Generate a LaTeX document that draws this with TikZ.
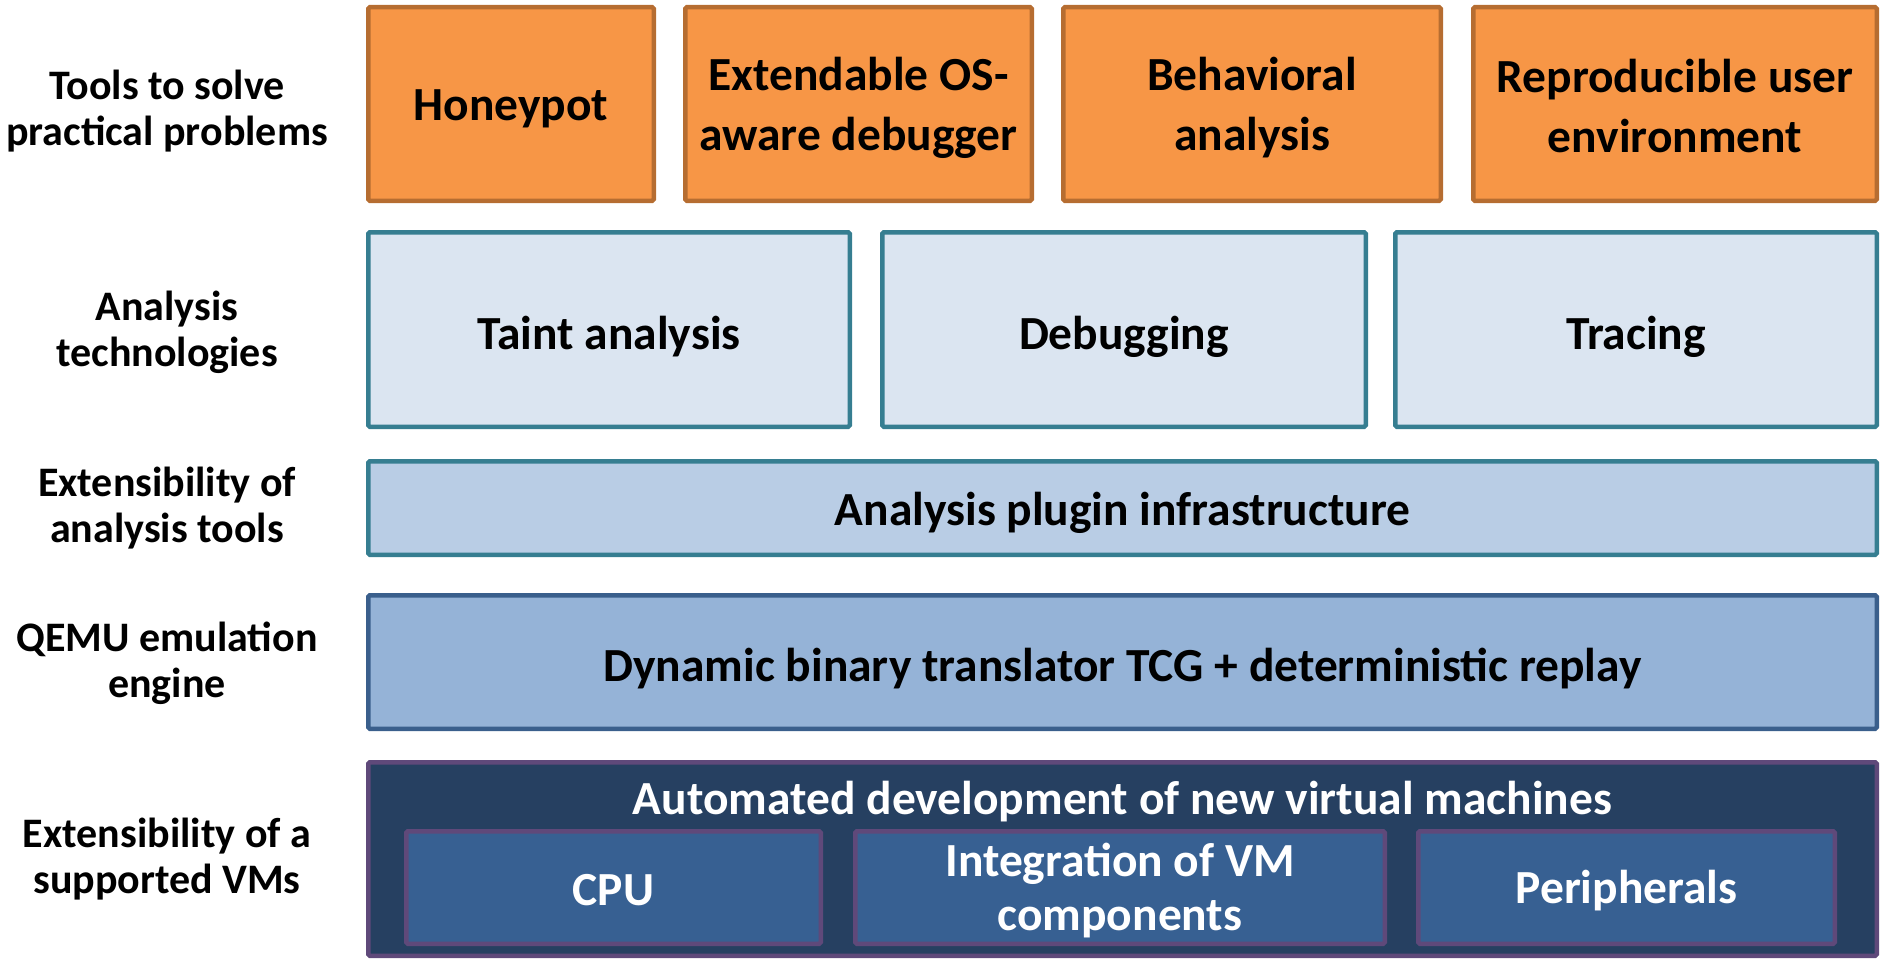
\documentclass[tikz,border=0pt]{standalone}
\usepackage{fontspec}
\setmainfont{Carlito}
\definecolor{orangefill}{HTML}{F79646}
\definecolor{orangeline}{HTML}{B66D31}
\definecolor{palefill}{HTML}{DBE5F1}
\definecolor{tealline}{HTML}{367E91}
\definecolor{lightfill}{HTML}{B9CDE5}
\definecolor{midfill}{HTML}{95B3D7}
\definecolor{midline}{HTML}{3A5F8C}
\definecolor{darkfill}{HTML}{264061}
\definecolor{vmfill}{HTML}{376092}
\definecolor{purpleline}{HTML}{5F497A}
\tikzset{
  layerbox/.style={draw, line width=4.5pt, rounded corners=1.5pt, inner sep=0pt},
  toolbox/.style={layerbox, fill=orangefill, draw=orangeline},
  techbox/.style={layerbox, fill=palefill, draw=tealline},
  pluginbox/.style={layerbox, fill=lightfill, draw=tealline},
  enginebox/.style={layerbox, fill=midfill, draw=midline},
  vmbox/.style={layerbox, fill=darkfill, draw=purpleline},
  partbox/.style={layerbox, fill=vmfill, draw=purpleline},
  % box captions: one-line captions sit a little lower than two-line ones
  oneline/.style={inner sep=0pt, align=center, yshift=-7pt,
    font=\bfseries\fontsize{47.5}{60}\selectfont},
  twoline/.style={inner sep=0pt, align=center, yshift=-4pt,
    font=\bfseries\fontsize{47.5}{60}\selectfont},
  onewhite/.style={oneline, text=white, yshift=4pt},
  twowhite/.style={twoline, text=white, yshift=1pt,
    font=\bfseries\fontsize{47.5}{54}\selectfont},
  rowlabel/.style={align=center, inner sep=0pt, font=\bfseries\fontsize{42}{46}\selectfont}
}
\begin{document}
\begin{tikzpicture}[x=1pt, y=-1pt]
\useasboundingbox (0,0) rectangle (1883,966);

% layer 1: tools
\node[toolbox, minimum width=285.5pt, minimum height=193.5pt] (honeypot) at (511,104) {};
\node[oneline, yshift=2pt] (honeypot-t) at (honeypot.center) {Honeypot};
\node[toolbox, minimum width=346.5pt, minimum height=193.5pt] (debugger) at (858.5,104) {};
\node[twoline] (debugger-t) at (debugger.center) {Extendable OS-\\aware debugger};
\node[toolbox, minimum width=377.5pt, minimum height=193.5pt] (behavior) at (1252,104) {};
\node[twoline] (behavior-t) at (behavior.center) {Behavioral\\analysis};
\node[toolbox, minimum width=403.5pt, minimum height=193.5pt] (reproduce) at (1675,104) {};
\node[twoline, yshift=2pt] (reproduce-t) at (reproduce.center) {Reproducible user\\environment};

% layer 2: analysis technologies
\node[techbox, minimum width=481.5pt, minimum height=194.5pt] (taint) at (609,329.5) {};
\node[oneline] (taint-t) at (taint.center) {Taint analysis};
\node[techbox, minimum width=483.5pt, minimum height=194.5pt] (debugging) at (1124,329.5) {};
\node[oneline] (debugging-t) at (debugging.center) {Debugging};
\node[techbox, minimum width=481.5pt, minimum height=194.5pt] (tracing) at (1636,329.5) {};
\node[oneline] (tracing-t) at (tracing.center) {Tracing};

% layer 3: plugin infrastructure
\node[pluginbox, minimum width=1508.5pt, minimum height=93.5pt] (plugins) at (1122.5,508) {};
\node[oneline, yshift=2pt] (plugins-t) at (plugins.center) {Analysis plugin infrastructure};

% layer 4: emulation engine
\node[enginebox, minimum width=1508.5pt, minimum height=133.5pt] (tcg) at (1122.5,662) {};
\node[oneline] (tcg-t) at (tcg.center) {Dynamic binary translator TCG + deterministic replay};

% layer 5: virtual machines
\node[vmbox, minimum width=1508.5pt, minimum height=193.5pt] (vms) at (1122.5,859) {};
\node[oneline, text=white, yshift=7pt] (vmtitle) at (1122.5,802) {Automated development of new virtual machines};
\node[partbox, minimum width=414.5pt, minimum height=112.5pt] (cpu) at (613.5,887.5) {};
\node[onewhite] (cpu-t) at (cpu.center) {CPU};
\node[partbox, minimum width=529.5pt, minimum height=112.5pt] (integration) at (1120,887.5) {};
\node[twowhite] (integration-t) at (integration.center) {Integration of VM\\components};
\node[partbox, minimum width=416.5pt, minimum height=112.5pt] (periph) at (1626.5,887.5) {};
\node[onewhite] (periph-t) at (periph.center) {Peripherals};

% row labels
\node[rowlabel] (l1) at (167,111) {Tools to solve\\practical problems};
\node[rowlabel] (l2) at (167,332) {Analysis\\technologies};
\node[rowlabel] (l3) at (167,508) {Extensibility of\\analysis tools};
\node[rowlabel] (l4) at (167,663) {QEMU emulation\\engine};
\node[rowlabel] (l5) at (167,859) {Extensibility of a\\supported VMs};
\end{tikzpicture}
\end{document}
